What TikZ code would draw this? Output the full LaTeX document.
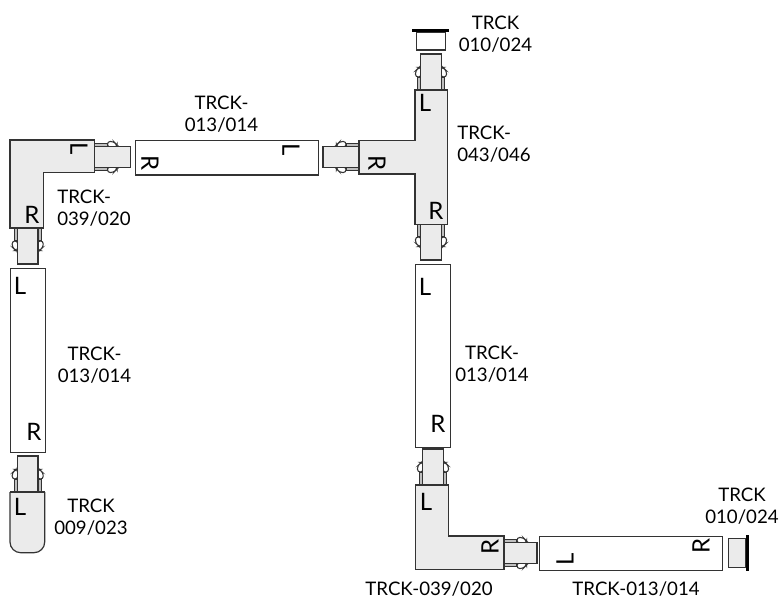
\documentclass[tikz,border=0pt]{standalone}
\usepackage{fontspec}
\setmainfont{Lato}
\usepackage{xcolor}
\usetikzlibrary{positioning,calc}
\definecolor{partgray}{HTML}{EBEBEB}
\definecolor{edgegray}{HTML}{333333}

\begin{document}
\begin{tikzpicture}[x=0.75pt, y=-0.75pt,
    body/.style={draw=edgegray, line width=0.9pt, fill=partgray},
    rail/.style={draw=edgegray, line width=0.9pt, fill=white, inner sep=0pt, anchor=north west},
    side/.style={inner sep=0pt, font=\fontsize{18}{18}\selectfont},
    code label/.style={inner sep=0pt, font=\fontsize{14}{16.5}\selectfont},
    pics/joiner/.style={code={
      \draw[draw=edgegray, line width=0.8pt, fill=gray!50] (0,-13.5) rectangle (13,13.5);
      \draw[draw=edgegray, line width=0.8pt, fill=white, rounded corners=2pt]
        (13,-10) -- (13,-15.5) -- (19,-15.5) -- (22.5,-12) -- (22.5,-10) -- cycle;
      \draw[draw=edgegray, line width=0.8pt, fill=white, rounded corners=2pt]
        (13,10) -- (13,15.5) -- (19,15.5) -- (22.5,12) -- (22.5,10) -- cycle;
      \draw[body] (0,-10.3) rectangle (#1,10.3);
    }},
    pics/joiner/.default=36]

  \node[rail, minimum width=183*0.75pt, minimum height=34.5*0.75pt] (railtop) at (135,140) {};
  \node[rail, minimum width=34.5*0.75pt, minimum height=184*0.75pt] (railleft) at (10,268) {};
  \node[rail, minimum width=35*0.75pt, minimum height=182.5*0.75pt] (railright) at (415,264) {};
  \node[rail, minimum width=183*0.75pt, minimum height=34.5*0.75pt] (railbottom) at (539,535.5) {};

  \path (94.5,157) pic {joiner};
  \path (27.7,228) pic[rotate=-90] {joiner};
  \path (27.7,492) pic[rotate=90] {joiner};
  \path (431,90) pic[rotate=90] {joiner};
  \path (431,224) pic[rotate=-90] {joiner};
  \path (359,157) pic[rotate=180] {joiner};
  \path (433,485) pic[rotate=90] {joiner};
  \path (504,553) pic {joiner=33};

  \draw[body] (10,140) -- (94.5,140) -- (94.5,172.7) -- (43.5,172.7) -- (43.5,228) -- (10,228) -- cycle;
  \draw[body] (415,90) -- (447.7,90) -- (447.7,224.3) -- (415,224.3) -- (415,174) -- (359,174) -- (359,140.3) -- (415,140.3) -- cycle;
  \draw[body] (415.3,485) -- (448.7,485) -- (448.7,536) -- (504,536) -- (504,569.5) -- (415.3,569.5) -- cycle;
  \draw[body, rounded corners=8pt] (10,492) -- (10,552.7) -- (44.7,552.7) -- (44.7,492);
  \draw[edgegray, line width=0.9pt] (10,492) -- (44.7,492);

  \draw[draw=edgegray, line width=0.9pt, fill=white] (416.3,32) rectangle (445.3,50);
  \fill[black] (412.3,29.3) rectangle (449.3,32.5);
  \draw[body] (728.7,538.7) rectangle (746,567.3);
  \fill[black] (746,535) rectangle (749.2,571);

  \node[side, rotate=-90] (sideA) at (79,148.5) {L};
  \node[side] (sideB) at (32,215) {R};
  \node[side, rotate=-90] (sideC) at (150,163) {R};
  \node[side, rotate=-90] (sideD) at (291,150) {L};
  \node[side, rotate=-90] (sideE) at (377,163) {R};
  \node[side] (sideF) at (425,103) {L};
  \node[side] (sideG) at (436,211) {R};
  \node[side] (sideH) at (20,286) {L};
  \node[side] (sideI) at (34,432) {R};
  \node[side] (sideJ) at (20,507) {L};
  \node[side] (sideK) at (425,287) {L};
  \node[side] (sideM) at (438,424) {R};
  \node[side] (sideN) at (426,502) {L};
  \node[side, rotate=90] (sideO) at (490,547) {R};
  \node[side, rotate=90] (sideP) at (565,559) {L};
  \node[side, rotate=90] (sideQ) at (701,546) {R};

  \node[code label, align=center] (codeA) at (221.5,114) {TRCK-\\013/014};
  \node[code label, align=center] (codeB) at (495.5,34) {TRCK\\010/024};
  \node[code label, align=left, anchor=west] (codeC) at (457,144) {TRCK-\\043/046};
  \node[code label, align=left, anchor=west] (codeD) at (57,208) {TRCK-\\039/020};
  \node[code label, align=center] (codeE) at (94.5,365) {TRCK-\\013/014};
  \node[code label, align=center] (codeF) at (492,364) {TRCK-\\013/014};
  \node[code label, align=center] (codeG) at (91,517) {TRCK\\009/023};
  \node[code label] (codeH) at (429,589) {TRCK-039/020};
  \node[code label] (codeI) at (636,589) {TRCK-013/014};
  \node[code label, align=center] (codeJ) at (742,506) {TRCK\\010/024};

  \useasboundingbox (0,0) rectangle (782,599);
\end{tikzpicture}
\end{document}
